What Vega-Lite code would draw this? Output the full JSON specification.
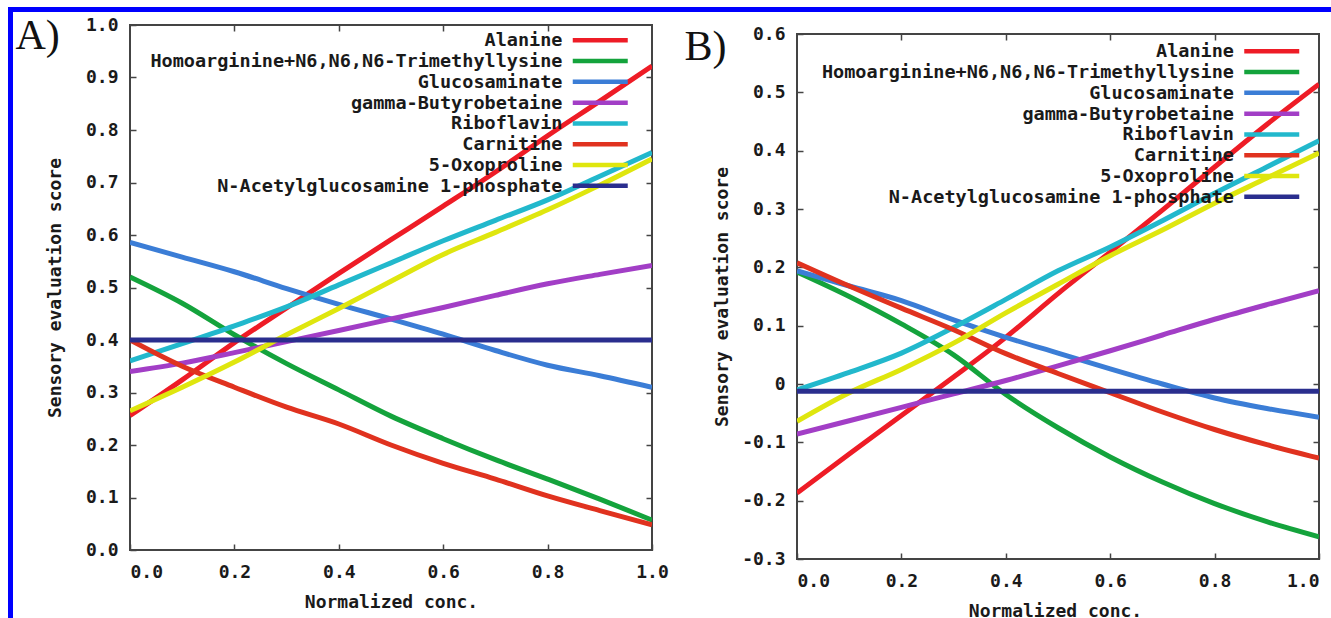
{
"$schema":"https://vega.github.io/schema/vega-lite/v6.json",
"background":"white",
"padding":{"left":7,"top":6,"right":0,"bottom":0},
"config":{"view":{"stroke":null},"font":"DejaVu Sans Mono"},
"datasets":{
"A":[
{"compound":"Alanine","x":0,"y":0.256},{"compound":"Alanine","x":0.1,"y":0.324},{"compound":"Alanine","x":0.2,"y":0.395},{"compound":"Alanine","x":0.3,"y":0.461},{"compound":"Alanine","x":0.4,"y":0.527},{"compound":"Alanine","x":0.5,"y":0.591},{"compound":"Alanine","x":0.6,"y":0.655},{"compound":"Alanine","x":0.7,"y":0.72},{"compound":"Alanine","x":0.8,"y":0.789},{"compound":"Alanine","x":0.9,"y":0.855},{"compound":"Alanine","x":1,"y":0.922},
{"compound":"Homoarginine+N6,N6,N6-Trimethyllysine","x":0,"y":0.52},{"compound":"Homoarginine+N6,N6,N6-Trimethyllysine","x":0.1,"y":0.47},{"compound":"Homoarginine+N6,N6,N6-Trimethyllysine","x":0.2,"y":0.41},{"compound":"Homoarginine+N6,N6,N6-Trimethyllysine","x":0.3,"y":0.355},{"compound":"Homoarginine+N6,N6,N6-Trimethyllysine","x":0.4,"y":0.305},{"compound":"Homoarginine+N6,N6,N6-Trimethyllysine","x":0.5,"y":0.255},{"compound":"Homoarginine+N6,N6,N6-Trimethyllysine","x":0.6,"y":0.212},{"compound":"Homoarginine+N6,N6,N6-Trimethyllysine","x":0.7,"y":0.172},{"compound":"Homoarginine+N6,N6,N6-Trimethyllysine","x":0.8,"y":0.135},{"compound":"Homoarginine+N6,N6,N6-Trimethyllysine","x":0.9,"y":0.097},{"compound":"Homoarginine+N6,N6,N6-Trimethyllysine","x":1,"y":0.057},
{"compound":"Glucosaminate","x":0,"y":0.586},{"compound":"Glucosaminate","x":0.1,"y":0.558},{"compound":"Glucosaminate","x":0.2,"y":0.53},{"compound":"Glucosaminate","x":0.3,"y":0.498},{"compound":"Glucosaminate","x":0.4,"y":0.468},{"compound":"Glucosaminate","x":0.5,"y":0.44},{"compound":"Glucosaminate","x":0.6,"y":0.411},{"compound":"Glucosaminate","x":0.7,"y":0.38},{"compound":"Glucosaminate","x":0.8,"y":0.352},{"compound":"Glucosaminate","x":0.9,"y":0.332},{"compound":"Glucosaminate","x":1,"y":0.31},
{"compound":"gamma-Butyrobetaine","x":0,"y":0.34},{"compound":"gamma-Butyrobetaine","x":0.1,"y":0.356},{"compound":"gamma-Butyrobetaine","x":0.2,"y":0.376},{"compound":"gamma-Butyrobetaine","x":0.3,"y":0.397},{"compound":"gamma-Butyrobetaine","x":0.4,"y":0.418},{"compound":"gamma-Butyrobetaine","x":0.5,"y":0.44},{"compound":"gamma-Butyrobetaine","x":0.6,"y":0.462},{"compound":"gamma-Butyrobetaine","x":0.7,"y":0.485},{"compound":"gamma-Butyrobetaine","x":0.8,"y":0.507},{"compound":"gamma-Butyrobetaine","x":0.9,"y":0.525},{"compound":"gamma-Butyrobetaine","x":1,"y":0.542},
{"compound":"Riboflavin","x":0,"y":0.36},{"compound":"Riboflavin","x":0.1,"y":0.393},{"compound":"Riboflavin","x":0.2,"y":0.427},{"compound":"Riboflavin","x":0.3,"y":0.463},{"compound":"Riboflavin","x":0.4,"y":0.505},{"compound":"Riboflavin","x":0.5,"y":0.547},{"compound":"Riboflavin","x":0.6,"y":0.589},{"compound":"Riboflavin","x":0.7,"y":0.628},{"compound":"Riboflavin","x":0.8,"y":0.667},{"compound":"Riboflavin","x":0.9,"y":0.712},{"compound":"Riboflavin","x":1,"y":0.757},
{"compound":"Carnitine","x":0,"y":0.4},{"compound":"Carnitine","x":0.1,"y":0.35},{"compound":"Carnitine","x":0.2,"y":0.31},{"compound":"Carnitine","x":0.3,"y":0.272},{"compound":"Carnitine","x":0.4,"y":0.24},{"compound":"Carnitine","x":0.5,"y":0.2},{"compound":"Carnitine","x":0.6,"y":0.165},{"compound":"Carnitine","x":0.7,"y":0.135},{"compound":"Carnitine","x":0.8,"y":0.103},{"compound":"Carnitine","x":0.9,"y":0.075},{"compound":"Carnitine","x":1,"y":0.048},
{"compound":"5-Oxoproline","x":0,"y":0.265},{"compound":"5-Oxoproline","x":0.1,"y":0.31},{"compound":"5-Oxoproline","x":0.2,"y":0.358},{"compound":"5-Oxoproline","x":0.3,"y":0.41},{"compound":"5-Oxoproline","x":0.4,"y":0.46},{"compound":"5-Oxoproline","x":0.5,"y":0.512},{"compound":"5-Oxoproline","x":0.6,"y":0.563},{"compound":"5-Oxoproline","x":0.7,"y":0.605},{"compound":"5-Oxoproline","x":0.8,"y":0.648},{"compound":"5-Oxoproline","x":0.9,"y":0.695},{"compound":"5-Oxoproline","x":1,"y":0.745},
{"compound":"N-Acetylglucosamine 1-phosphate","x":0,"y":0.4},{"compound":"N-Acetylglucosamine 1-phosphate","x":0.1,"y":0.4},{"compound":"N-Acetylglucosamine 1-phosphate","x":0.2,"y":0.4},{"compound":"N-Acetylglucosamine 1-phosphate","x":0.3,"y":0.4},{"compound":"N-Acetylglucosamine 1-phosphate","x":0.4,"y":0.4},{"compound":"N-Acetylglucosamine 1-phosphate","x":0.5,"y":0.4},{"compound":"N-Acetylglucosamine 1-phosphate","x":0.6,"y":0.4},{"compound":"N-Acetylglucosamine 1-phosphate","x":0.7,"y":0.4},{"compound":"N-Acetylglucosamine 1-phosphate","x":0.8,"y":0.4},{"compound":"N-Acetylglucosamine 1-phosphate","x":0.9,"y":0.4},{"compound":"N-Acetylglucosamine 1-phosphate","x":1,"y":0.4}
],
"B":[
{"compound":"Alanine","x":0,"y":-0.187},{"compound":"Alanine","x":0.1,"y":-0.12},{"compound":"Alanine","x":0.2,"y":-0.054},{"compound":"Alanine","x":0.3,"y":0.012},{"compound":"Alanine","x":0.4,"y":0.08},{"compound":"Alanine","x":0.5,"y":0.155},{"compound":"Alanine","x":0.6,"y":0.226},{"compound":"Alanine","x":0.7,"y":0.298},{"compound":"Alanine","x":0.8,"y":0.372},{"compound":"Alanine","x":0.9,"y":0.445},{"compound":"Alanine","x":1,"y":0.514},
{"compound":"Homoarginine+N6,N6,N6-Trimethyllysine","x":0,"y":0.192},{"compound":"Homoarginine+N6,N6,N6-Trimethyllysine","x":0.1,"y":0.15},{"compound":"Homoarginine+N6,N6,N6-Trimethyllysine","x":0.2,"y":0.103},{"compound":"Homoarginine+N6,N6,N6-Trimethyllysine","x":0.3,"y":0.05},{"compound":"Homoarginine+N6,N6,N6-Trimethyllysine","x":0.4,"y":-0.018},{"compound":"Homoarginine+N6,N6,N6-Trimethyllysine","x":0.5,"y":-0.075},{"compound":"Homoarginine+N6,N6,N6-Trimethyllysine","x":0.6,"y":-0.125},{"compound":"Homoarginine+N6,N6,N6-Trimethyllysine","x":0.7,"y":-0.168},{"compound":"Homoarginine+N6,N6,N6-Trimethyllysine","x":0.8,"y":-0.205},{"compound":"Homoarginine+N6,N6,N6-Trimethyllysine","x":0.9,"y":-0.236},{"compound":"Homoarginine+N6,N6,N6-Trimethyllysine","x":1,"y":-0.262},
{"compound":"Glucosaminate","x":0,"y":0.194},{"compound":"Glucosaminate","x":0.1,"y":0.168},{"compound":"Glucosaminate","x":0.2,"y":0.143},{"compound":"Glucosaminate","x":0.3,"y":0.11},{"compound":"Glucosaminate","x":0.4,"y":0.08},{"compound":"Glucosaminate","x":0.5,"y":0.053},{"compound":"Glucosaminate","x":0.6,"y":0.026},{"compound":"Glucosaminate","x":0.7,"y":0.0},{"compound":"Glucosaminate","x":0.8,"y":-0.024},{"compound":"Glucosaminate","x":0.9,"y":-0.042},{"compound":"Glucosaminate","x":1,"y":-0.057},
{"compound":"gamma-Butyrobetaine","x":0,"y":-0.086},{"compound":"gamma-Butyrobetaine","x":0.1,"y":-0.063},{"compound":"gamma-Butyrobetaine","x":0.2,"y":-0.04},{"compound":"gamma-Butyrobetaine","x":0.3,"y":-0.017},{"compound":"gamma-Butyrobetaine","x":0.4,"y":0.006},{"compound":"gamma-Butyrobetaine","x":0.5,"y":0.031},{"compound":"gamma-Butyrobetaine","x":0.6,"y":0.057},{"compound":"gamma-Butyrobetaine","x":0.7,"y":0.084},{"compound":"gamma-Butyrobetaine","x":0.8,"y":0.111},{"compound":"gamma-Butyrobetaine","x":0.9,"y":0.136},{"compound":"gamma-Butyrobetaine","x":1,"y":0.16},
{"compound":"Riboflavin","x":0,"y":-0.01},{"compound":"Riboflavin","x":0.1,"y":0.02},{"compound":"Riboflavin","x":0.2,"y":0.053},{"compound":"Riboflavin","x":0.3,"y":0.097},{"compound":"Riboflavin","x":0.4,"y":0.145},{"compound":"Riboflavin","x":0.5,"y":0.194},{"compound":"Riboflavin","x":0.6,"y":0.235},{"compound":"Riboflavin","x":0.7,"y":0.28},{"compound":"Riboflavin","x":0.8,"y":0.327},{"compound":"Riboflavin","x":0.9,"y":0.372},{"compound":"Riboflavin","x":1,"y":0.417},
{"compound":"Carnitine","x":0,"y":0.208},{"compound":"Carnitine","x":0.1,"y":0.168},{"compound":"Carnitine","x":0.2,"y":0.13},{"compound":"Carnitine","x":0.3,"y":0.093},{"compound":"Carnitine","x":0.4,"y":0.052},{"compound":"Carnitine","x":0.5,"y":0.018},{"compound":"Carnitine","x":0.6,"y":-0.015},{"compound":"Carnitine","x":0.7,"y":-0.048},{"compound":"Carnitine","x":0.8,"y":-0.078},{"compound":"Carnitine","x":0.9,"y":-0.104},{"compound":"Carnitine","x":1,"y":-0.127},
{"compound":"5-Oxoproline","x":0,"y":-0.064},{"compound":"5-Oxoproline","x":0.1,"y":-0.015},{"compound":"5-Oxoproline","x":0.2,"y":0.025},{"compound":"5-Oxoproline","x":0.3,"y":0.07},{"compound":"5-Oxoproline","x":0.4,"y":0.122},{"compound":"5-Oxoproline","x":0.5,"y":0.171},{"compound":"5-Oxoproline","x":0.6,"y":0.22},{"compound":"5-Oxoproline","x":0.7,"y":0.264},{"compound":"5-Oxoproline","x":0.8,"y":0.31},{"compound":"5-Oxoproline","x":0.9,"y":0.353},{"compound":"5-Oxoproline","x":1,"y":0.396},
{"compound":"N-Acetylglucosamine 1-phosphate","x":0,"y":-0.0125},{"compound":"N-Acetylglucosamine 1-phosphate","x":0.1,"y":-0.0125},{"compound":"N-Acetylglucosamine 1-phosphate","x":0.2,"y":-0.0125},{"compound":"N-Acetylglucosamine 1-phosphate","x":0.3,"y":-0.0125},{"compound":"N-Acetylglucosamine 1-phosphate","x":0.4,"y":-0.0125},{"compound":"N-Acetylglucosamine 1-phosphate","x":0.5,"y":-0.0125},{"compound":"N-Acetylglucosamine 1-phosphate","x":0.6,"y":-0.0125},{"compound":"N-Acetylglucosamine 1-phosphate","x":0.7,"y":-0.0125},{"compound":"N-Acetylglucosamine 1-phosphate","x":0.8,"y":-0.0125},{"compound":"N-Acetylglucosamine 1-phosphate","x":0.9,"y":-0.0125},{"compound":"N-Acetylglucosamine 1-phosphate","x":1,"y":-0.0125}
]
},
"spacing":0,
"bounds":"flush",
"resolve":{"scale":{"color":"independent"},"legend":{"color":"independent"}},
"hconcat":[
 {"width":5,"height":612,"data":{"values":[{}]},"mark":{"type":"point","opacity":0},"encoding":{},"view":{"fill":"#0000ff","stroke":null}},
 {"spacing":13,"bounds":"flush",
  "resolve":{"scale":{"color":"independent"},"legend":{"color":"independent"}},
  "vconcat":[
   {"width":1319,"height":5,"data":{"values":[{}]},"mark":{"type":"point","opacity":0},"encoding":{},"view":{"fill":"#0000ff","stroke":null}},
   {"spacing":116,"bounds":"flush",
    "resolve":{"scale":{"color":"independent"},"legend":{"color":"independent"}},
    "hconcat":[
     {"width":1,"height":1,"data":{"values":[{}]},"mark":{"type":"point","opacity":0},"encoding":{},"view":{"stroke":null}},
     {"spacing":145,"bounds":"flush",
      "resolve":{"scale":{"color":"independent"},"legend":{"color":"independent"}},
      "hconcat":[
       {"width":522,"height":525,
        "data":{"name":"A"},
        "view":{"stroke":"#444","strokeWidth":2},
        "resolve":{"axis":{"x":"independent","y":"independent"}},
        "layer":[
         {"mark":{"type":"line","strokeWidth":5,"interpolate":"monotone","clip":true},
          "encoding":{
           "x":{"field":"x","type":"quantitative","scale":{"domain":[0,1],"nice":false,"zero":false},
                "axis":{"orient":"bottom","values":[0,0.2,0.4,0.6,0.8,1],"format":".1f","title":"Normalized conc.","grid":false,"domain":false,"tickSize":-6,"tickColor":"#444","tickWidth":1.5,"labelPadding":28,"labelBaseline":"middle","labelAlign":{"condition":{"test":"datum.value == 0","value":"left"},"value":"center"},"labelFont":"DejaVu Sans Mono","labelFontWeight":"bold","labelFontSize":18,"labelColor":"#1a1a1a","labelOverlap":false,"labelBound":false,"titleFont":"DejaVu Sans Mono","titleFontWeight":"bold","titleFontSize":18,"titleColor":"#1a1a1a","titleX":261,"titleY":52,"titleAlign":"center","titleBaseline":"middle"}},
           "y":{"field":"y","type":"quantitative","scale":{"domain":[0,1],"nice":false,"zero":false},
                "axis":{"orient":"left","values":[0,0.1,0.2,0.3,0.4,0.5,0.6,0.7,0.8,0.9,1],"format":".1f","title":"Sensory evaluation score","grid":false,"domain":false,"tickSize":-6,"tickColor":"#444","tickWidth":1.5,"labelPadding":18,"labelAlign":"right","labelBaseline":"middle","labelFont":"DejaVu Sans Mono","labelFontWeight":"bold","labelFontSize":18,"labelColor":"#1a1a1a","labelOverlap":false,"labelBound":false,"titleFont":"DejaVu Sans Mono","titleFontWeight":"bold","titleFontSize":18,"titleColor":"#1a1a1a","titleX":-75,"titleY":262.5,"titleAngle":270,"titleAlign":"center","titleBaseline":"middle"}},
           "color":{"field":"compound","type":"nominal",
                "scale":{"domain":["Alanine","Homoarginine+N6,N6,N6-Trimethyllysine","Glucosaminate","gamma-Butyrobetaine","Riboflavin","Carnitine","5-Oxoproline","N-Acetylglucosamine 1-phosphate"],"range":["#ee1c26","#14a33c","#3b7dd6","#a23ec6","#22b8cc","#e0321f","#dfe60e","#2a2e8e"]},
                "legend":{"orient":"none","legendX":461,"legendY":6,"title":null,"symbolType":"M-11,0H11","symbolSize":25,"symbolStrokeWidth":4.5,"symbolFillColor":"transparent","labelAlign":"right","labelOffset":-47,"labelBaseline":"middle","labelFont":"DejaVu Sans Mono","labelFontWeight":"bold","labelFontSize":18.5,"labelColor":"#1a1a1a","labelLimit":1000,"rowPadding":1.8,"padding":0}}
          }},
         {"mark":{"type":"point","opacity":0},
          "encoding":{
           "x":{"field":"x","type":"quantitative","axis":{"orient":"top","values":[0.2,0.4,0.6,0.8],"labels":false,"title":"A)","titleFont":"Liberation Serif","titleFontSize":42,"titleFontWeight":"normal","titleColor":"#111","titleX":-115,"titleY":23,"titleAngle":0,"titleAlign":"left","titleBaseline":"alphabetic","grid":false,"domain":false,"tickSize":-6,"tickColor":"#444","tickWidth":1.5}},
           "y":{"field":"y","type":"quantitative","axis":{"orient":"right","values":[0.1,0.2,0.3,0.4,0.5,0.6,0.7,0.8,0.9],"labels":false,"title":null,"grid":false,"domain":false,"tickSize":-6,"tickColor":"#444","tickWidth":1.5}}
          }}
        ]},
       {"spacing":8,"bounds":"flush",
        "resolve":{"scale":{"color":"independent"},"legend":{"color":"independent"}},
        "vconcat":[
         {"width":1,"height":1,"data":{"values":[{}]},"mark":{"type":"point","opacity":0},"encoding":{},"view":{"stroke":null}},
         {"width":522,"height":525,
          "data":{"name":"B"},
          "view":{"stroke":"#444","strokeWidth":2},
          "resolve":{"axis":{"x":"independent","y":"independent"}},
          "layer":[
           {"mark":{"type":"line","strokeWidth":5,"interpolate":"monotone","clip":true},
            "encoding":{
             "x":{"field":"x","type":"quantitative","scale":{"domain":[0,1],"nice":false,"zero":false},
                  "axis":{"orient":"bottom","values":[0,0.2,0.4,0.6,0.8,1],"format":".1f","title":"Normalized conc.","grid":false,"domain":false,"tickSize":-6,"tickColor":"#444","tickWidth":1.5,"labelPadding":28,"labelBaseline":"middle","labelFlush":true,"labelFont":"DejaVu Sans Mono","labelFontWeight":"bold","labelFontSize":18,"labelColor":"#1a1a1a","labelOverlap":false,"labelBound":false,"titleFont":"DejaVu Sans Mono","titleFontWeight":"bold","titleFontSize":18,"titleColor":"#1a1a1a","titleX":258,"titleY":52,"titleAlign":"center","titleBaseline":"middle"}},
             "y":{"field":"y","type":"quantitative","scale":{"domain":[-0.3,0.6],"nice":false,"zero":false},
                  "axis":{"orient":"left","values":[-0.3,-0.2,-0.1,0,0.1,0.2,0.3,0.4,0.5,0.6],"labelExpr":"datum.value == 0 ? '0' : (datum.value < 0 ? '-' : '') + format(abs(datum.value), '.1f')","title":"Sensory evaluation score","grid":false,"domain":false,"tickSize":-6,"tickColor":"#444","tickWidth":1.5,"labelPadding":18,"labelAlign":"right","labelBaseline":"middle","labelFont":"DejaVu Sans Mono","labelFontWeight":"bold","labelFontSize":18,"labelColor":"#1a1a1a","labelOverlap":false,"labelBound":false,"titleFont":"DejaVu Sans Mono","titleFontWeight":"bold","titleFontSize":18,"titleColor":"#1a1a1a","titleX":-75,"titleY":262.5,"titleAngle":270,"titleAlign":"center","titleBaseline":"middle"}},
             "color":{"field":"compound","type":"nominal",
                  "scale":{"domain":["Alanine","Homoarginine+N6,N6,N6-Trimethyllysine","Glucosaminate","gamma-Butyrobetaine","Riboflavin","Carnitine","5-Oxoproline","N-Acetylglucosamine 1-phosphate"],"range":["#ee1c26","#14a33c","#3b7dd6","#a23ec6","#22b8cc","#e0321f","#dfe60e","#2a2e8e"]},
                  "legend":{"orient":"none","legendX":465.5,"legendY":8,"title":null,"symbolType":"M-11,0H11","symbolSize":25,"symbolStrokeWidth":4.5,"symbolFillColor":"transparent","labelAlign":"right","labelOffset":-47,"labelBaseline":"middle","labelFont":"DejaVu Sans Mono","labelFontWeight":"bold","labelFontSize":18.5,"labelColor":"#1a1a1a","labelLimit":1000,"rowPadding":1.8,"padding":0}}
            }},
           {"mark":{"type":"point","opacity":0},
            "encoding":{
             "x":{"field":"x","type":"quantitative","axis":{"orient":"top","values":[0.2,0.4,0.6,0.8],"labels":false,"title":"B)","titleFont":"Liberation Serif","titleFontSize":42,"titleFontWeight":"normal","titleColor":"#111","titleX":-113,"titleY":25,"titleAngle":0,"titleAlign":"left","titleBaseline":"alphabetic","grid":false,"domain":false,"tickSize":-6,"tickColor":"#444","tickWidth":1.5}},
             "y":{"field":"y","type":"quantitative","axis":{"orient":"right","values":[-0.2,-0.1,0,0.1,0.2,0.3,0.4,0.5],"labels":false,"title":null,"grid":false,"domain":false,"tickSize":-6,"tickColor":"#444","tickWidth":1.5}}
            }}
          ]}
        ]}
      ]}
    ]}
  ]}
]
}
